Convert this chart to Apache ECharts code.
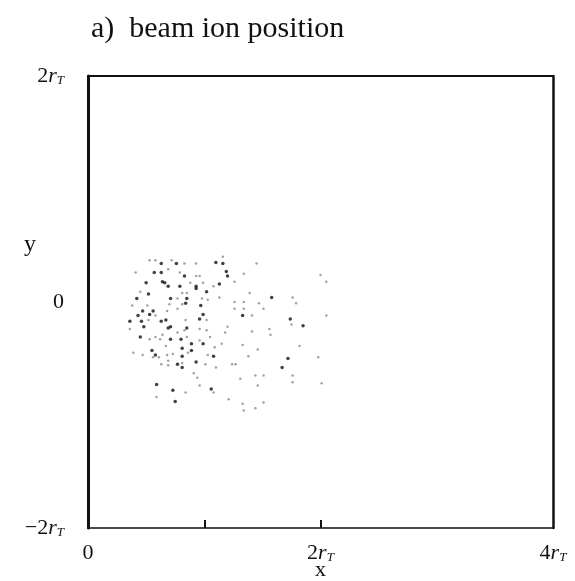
<!DOCTYPE html>
<html lang="en">
<head>
	<meta charset="UTF-8">
	<script src="https://cdn.jsdelivr.net/npm/echarts@6/dist/echarts.min.js"></script>
	<title>beam ion position</title>
	<style>
		body { margin: 0; background: #fff; }
	</style>
</head>
<body>
	<div id="main" style="width: 575px;height:581px;"></div>

	<script>
		// positions in units of r_T
		var darkIons = [
			[0.63,0.34],[0.76,0.34],[1.10,0.35],[1.16,0.34],
			[0.57,0.26],[0.63,0.26],[0.83,0.23],[1.19,0.27],[1.20,0.23],
			[0.50,0.17],[0.64,0.18],[0.66,0.17],[0.69,0.14],[0.79,0.14],[0.93,0.14],[0.93,0.12],[1.13,0.16],[0.52,0.07],
			[0.71,0.03],[0.85,0.03],[1.02,0.09],[1.58,0.04],[0.42,0.03],[0.84,-0.01],
			[0.56,-0.08],[0.47,-0.08],[0.97,-0.03],[0.43,-0.12],[0.53,-0.11],[0.99,-0.11],[0.96,-0.15],
			[0.67,-0.16],[0.63,-0.17],[0.46,-0.17],[0.36,-0.17],[1.33,-0.12],[1.74,-0.15],
			[0.71,-0.22],[0.69,-0.23],[0.48,-0.22],[0.85,-0.23],[1.85,-0.21],
			[0.45,-0.31],[0.71,-0.33],[0.80,-0.33],
			[0.89,-0.37],[0.99,-0.37],[0.55,-0.43],[0.81,-0.41],[0.89,-0.43],
			[0.58,-0.47],[0.81,-0.48],[1.08,-0.48],[1.72,-0.50],
			[0.77,-0.55],[0.93,-0.53],[0.81,-0.58],[1.67,-0.58],
			[0.59,-0.73],[1.06,-0.77],[0.73,-0.78],[0.75,-0.88]
		];
		var lightIons = [
			[0.53,0.37],[0.58,0.37],[0.72,0.37],[0.83,0.34],[0.93,0.34],[1.16,0.40],[1.45,0.34],
			[0.41,0.26],[0.69,0.29],[0.79,0.26],[0.93,0.23],[0.96,0.23],[1.34,0.25],[2.00,0.24],
			[0.88,0.17],[0.99,0.17],[1.08,0.14],[1.26,0.18],[2.05,0.18],[0.45,0.09],
			[0.77,0.03],[0.81,0.08],[0.85,0.08],[0.98,0.03],[1.03,0.02],[1.13,0.04],[1.39,0.08],[1.76,0.04],
			[1.26,0.00],[1.34,0.00],[1.47,-0.01],[1.79,-0.01],[0.81,-0.02],[0.70,-0.02],[0.51,-0.03],[0.38,-0.03],
			[0.77,-0.06],[0.68,-0.08],[1.26,-0.06],[1.34,-0.06],[1.51,-0.06],[0.58,-0.12],[1.02,-0.16],
			[0.84,-0.16],[0.52,-0.16],[1.41,-0.12],[2.05,-0.12],
			[0.36,-0.24],[0.83,-0.25],[0.96,-0.24],[1.02,-0.25],[1.20,-0.22],[1.18,-0.27],[1.41,-0.26],
			[1.56,-0.24],[1.75,-0.20],[1.57,-0.29],[0.77,-0.27],[0.64,-0.29],
			[0.53,-0.33],[0.58,-0.31],[0.62,-0.33],[0.85,-0.31],[0.96,-0.34],[1.05,-0.31],
			[0.67,-0.39],[1.15,-0.37],[1.33,-0.38],[1.46,-0.42],[1.82,-0.39],[0.86,-0.45],[1.09,-0.40],
			[0.39,-0.45],[0.47,-0.47],[0.68,-0.47],[0.73,-0.46],[1.03,-0.47],[1.38,-0.48],[1.98,-0.49],
			[0.56,-0.49],[0.61,-0.49],[0.69,-0.52],
			[0.63,-0.55],[0.69,-0.56],[0.81,-0.54],[1.01,-0.55],[1.10,-0.58],[1.24,-0.55],[1.27,-0.55],
			[0.91,-0.63],[0.94,-0.67],
			[1.44,-0.65],[1.51,-0.65],[1.76,-0.65],[1.76,-0.71],[1.31,-0.68],[2.01,-0.72],[0.96,-0.74],
			[1.08,-0.80],[1.46,-0.74],[0.84,-0.80],
			[0.59,-0.84],[1.21,-0.86],[1.33,-0.90],[1.51,-0.89],[1.34,-0.96],[1.44,-0.94]
		];
		var xTickLabels = { 0: '0', 2: '2', 4: '4' };
		var xTickMarks = [1, 2];
		var yTickLabels = { '-2': '−2', 0: '0', 2: '2' };

		var serif = '"Liberation Serif", "DejaVu Serif", serif';
		var rich = {
			n: { fontFamily: serif, fontSize: 22, color: '#111' },
			r: { fontFamily: serif, fontSize: 22, fontStyle: 'italic', color: '#111' },
			s: { fontFamily: serif, fontSize: 13, fontStyle: 'italic', color: '#111', verticalAlign: 'bottom', padding: [8, 0, 0, 0] }
		};
		function rtLabel(txt) {
			if (txt === '0') return '{n|0}';
			return '{n|' + txt + '}{r|r}{s|T}';
		}

		var chart = echarts.init(document.getElementById('main'));
		chart.setOption({
			animation: false,
			backgroundColor: '#fff',
			title: {
				text: 'a)  beam ion position',
				left: 86,
				top: 9,
				textStyle: { fontFamily: serif, fontSize: 30, fontWeight: 'normal', color: '#111' }
			},
			graphic: [{
				type: 'text',
				left: 24,
				top: 233,
				style: { text: 'y', font: '24px ' + serif, fill: '#111' }
			}],
			grid: { left: 88, right: 22, top: 76, bottom: 53, outerBoundsMode: 'none', containLabel: false },
			xAxis: [{
				type: 'value', min: 0, max: 4, interval: 1,
				name: 'x', nameLocation: 'middle', nameGap: 31, nameMoveOverlap: false,
				nameTextStyle: { fontFamily: serif, fontSize: 22, color: '#111' },
				axisLine: { onZero: false, lineStyle: { color: '#111', width: 1.5 } },
				axisTick: { inside: true, length: 8, customValues: xTickMarks, lineStyle: { color: '#111', width: 2 } },
				splitLine: { show: false },
				axisLabel: {
					margin: 14,
					formatter: function (v) { return xTickLabels[v] !== undefined ? rtLabel(xTickLabels[v]) : ''; },
					rich: rich
				}
			}, {
				type: 'value', min: 0, max: 4, position: 'top',
				axisLine: { show: true, onZero: false, lineStyle: { color: '#111', width: 2 } },
				axisTick: { show: false }, axisLabel: { show: false }, splitLine: { show: false }
			}],
			yAxis: [{
				type: 'value', min: -2, max: 2, interval: 2,
				axisLine: { show: true, onZero: false, lineStyle: { color: '#111', width: 3 } },
				axisTick: { show: false },
				splitLine: { show: false },
				axisLabel: {
					margin: 24,
					formatter: function (v) { return rtLabel(yTickLabels[v]); },
					rich: rich
				}
			}, {
				type: 'value', min: -2, max: 2, position: 'right',
				axisLine: { show: true, onZero: false, lineStyle: { color: '#111', width: 2.5 } },
				axisTick: { show: false }, axisLabel: { show: false }, splitLine: { show: false }
			}],
			series: [{
				type: 'scatter',
				data: lightIons,
				symbolSize: 2.5,
				itemStyle: { color: '#8a8a8a' }
			}, {
				type: 'scatter',
				data: darkIons,
				symbolSize: 3.5,
				itemStyle: { color: '#111' }
			}]
		});
	</script>
</body>
</html>
